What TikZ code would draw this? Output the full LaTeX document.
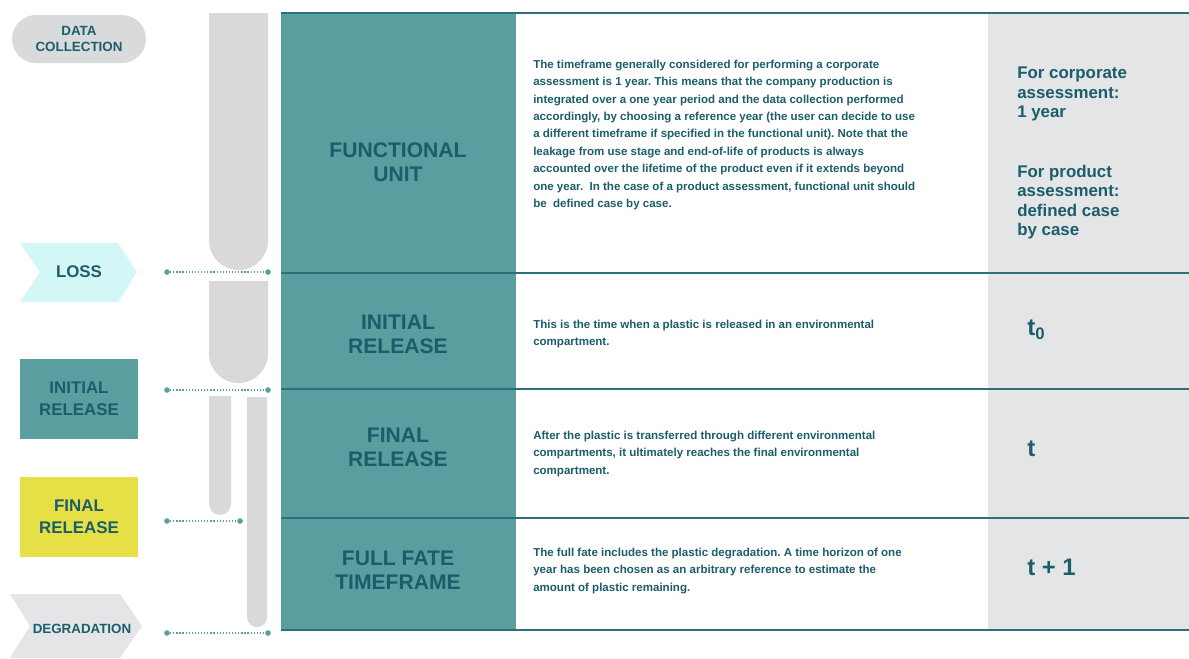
\documentclass[tikz,border=0pt]{standalone}
\usepackage{fontspec}
\setmainfont{Liberation Sans}
\frenchspacing
\definecolor{fateteal}{HTML}{5B9E9F}
\definecolor{fatedark}{HTML}{1B5D6A}
\definecolor{fateline}{HTML}{2D6F7B}
\definecolor{colgrey}{HTML}{E4E5E7}
\definecolor{tubegrey}{HTML}{D9D9D9}
\definecolor{pillgrey}{HTML}{D9DADC}
\definecolor{losscyan}{HTML}{D3F6F7}
\definecolor{finalyellow}{HTML}{E6DF45}
\newcommand{\px}{0.025cm}

\begin{document}
\begin{tikzpicture}[x=\px, y=-\px,
    every node/.style={text=fatedark, inner sep=0pt},
    head/.style={align=center, font=\bfseries\fontsize{15}{17}\selectfont},
    para/.style={anchor=west, align=left, font=\bfseries\fontsize{8.2}{12.4}\selectfont},
    side/.style={anchor=west, align=left, font=\bfseries\fontsize{12}{13.8}\selectfont},
    time/.style={anchor=west, font=\bfseries\fontsize{17}{19}\selectfont},
    box/.style={minimum width=118*\px, minimum height=80*\px, align=center, font=\bfseries\fontsize{12}{15.3}\selectfont},
    pill/.style={fill=pillgrey, rounded corners=24*\px, minimum width=134*\px, minimum height=48*\px, align=center, font=\bfseries\fontsize{9.5}{10.8}\selectfont},
    dot/.style={circle, fill=fateteal, minimum size=4pt},
    link/.style={draw=fateteal, line width=0.8pt, dash pattern=on 0.9pt off 1.3pt},
    tube/.style={fill=tubegrey},
    rowline/.style={draw=fateline, line width=1.5pt}]
    \useasboundingbox (0,0) rectangle (1189,658);

    % Columns of the table
    \fill[fateteal] (281,13) rectangle (516,630);
    \fill[colgrey] (988,13) rectangle (1189,630);
    \foreach \yy in {13,273,389,518,630}
        \draw[rowline] (281,\yy) -- (1189,\yy);

    % Tubes
    \fill[tube] (209,13) -- (209,240.5) arc[start angle=180, end angle=360, radius=29.5*\px] -- (268,13) -- cycle;
    \fill[tube] (209,281) -- (209,353.5) arc[start angle=180, end angle=360, radius=29.5*\px] -- (268,281) -- cycle;
    \fill[tube] (209,396) -- (209,504) arc[start angle=180, end angle=360, radius=11*\px] -- (231,396) -- cycle;
    \fill[tube] (247,397) -- (247,617) arc[start angle=180, end angle=360, radius=10*\px] -- (267,397) -- cycle;

    % Left column
    \node[pill] (collect) at (79,39) {DATA\\COLLECTION};
    \fill[losscyan] (20,243) -- (118,243) -- (137,272) -- (118,302) -- (20,302) -- (40,272) -- cycle;
    \node[font=\bfseries\fontsize{12}{14}\selectfont] (loss) at (79,272) {LOSS};
    \node[box, fill=fateteal] (init-box) at (79,399) {INITIAL\\RELEASE};
    \node[box, fill=finalyellow] (final-box) at (79,517) {FINAL\\RELEASE};
    \fill[colgrey] (10,594) -- (120,594) -- (142,626) -- (120,658) -- (10,658) -- (30,626) -- cycle;
    \node[font=\bfseries\fontsize{9.5}{11}\selectfont] (degrade) at (82,629) {DEGRADATION};

    % Dotted links
    \node[dot] (loss-a) at (167,272) {};
    \node[dot] (loss-b) at (268,272) {};
    \node[dot] (init-a) at (167,390) {};
    \node[dot] (init-b) at (268,390) {};
    \node[dot] (final-a) at (167,521) {};
    \node[dot] (final-b) at (240,521) {};
    \node[dot] (degrade-a) at (167,633) {};
    \node[dot] (degrade-b) at (268,633) {};
    \draw[link] (loss-a) -- (loss-b);
    \draw[link] (init-a) -- (init-b);
    \draw[link] (final-a) -- (final-b);
    \draw[link] (degrade-a) -- (degrade-b);

    % Row headings
    \node[head] (unit) at (398,162) {FUNCTIONAL\\UNIT};
    \node[head] (initial) at (398,334) {INITIAL\\RELEASE};
    \node[head] (final) at (398,447) {FINAL\\RELEASE};
    \node[head] (fullfate) at (398,570) {FULL FATE\\TIMEFRAME};

    % Descriptions
    \node[para] (unit-text) at (533,135) {The timeframe generally considered for performing a corporate\\
        assessment is 1 year. This means that the company production is\\
        integrated over a one year period and the data collection performed\\
        accordingly, by choosing a reference year (the user can decide to use\\
        a different timeframe if specified in the functional unit). Note that the\\
        leakage from use stage and end-of-life of products is always\\
        accounted over the lifetime of the product even if it extends beyond\\
        one year.\ \ In the case of a product assessment, functional unit should\\
        be\ \ defined case by case.};
    \node[para] (initial-text) at (533,334) {This is the time when a plastic is released in an environmental\\
        compartment.};
    \node[para] (final-text) at (533,454) {After the plastic is transferred through different environmental\\
        compartments, it ultimately reaches the final environmental\\
        compartment.};
    \node[para] (fullfate-text) at (533,571) {The full fate includes the plastic degradation. A time horizon of one\\
        year has been chosen as an arbitrary reference to estimate the\\
        amount of plastic remaining.};

    % Time column
    \node[side] (corporate) at (1017,94) {For corporate\\assessment:\\1 year};
    \node[side] (product) at (1017,202) {For product\\assessment:\\defined case\\by case};
    \node[time] (t-zero) at (1027,330) {t\textsubscript{0}};
    \node[time] (t-final) at (1027,449) {t};
    \node[time] (t-plus) at (1027,567) {t + 1};

\end{tikzpicture}
\end{document}
